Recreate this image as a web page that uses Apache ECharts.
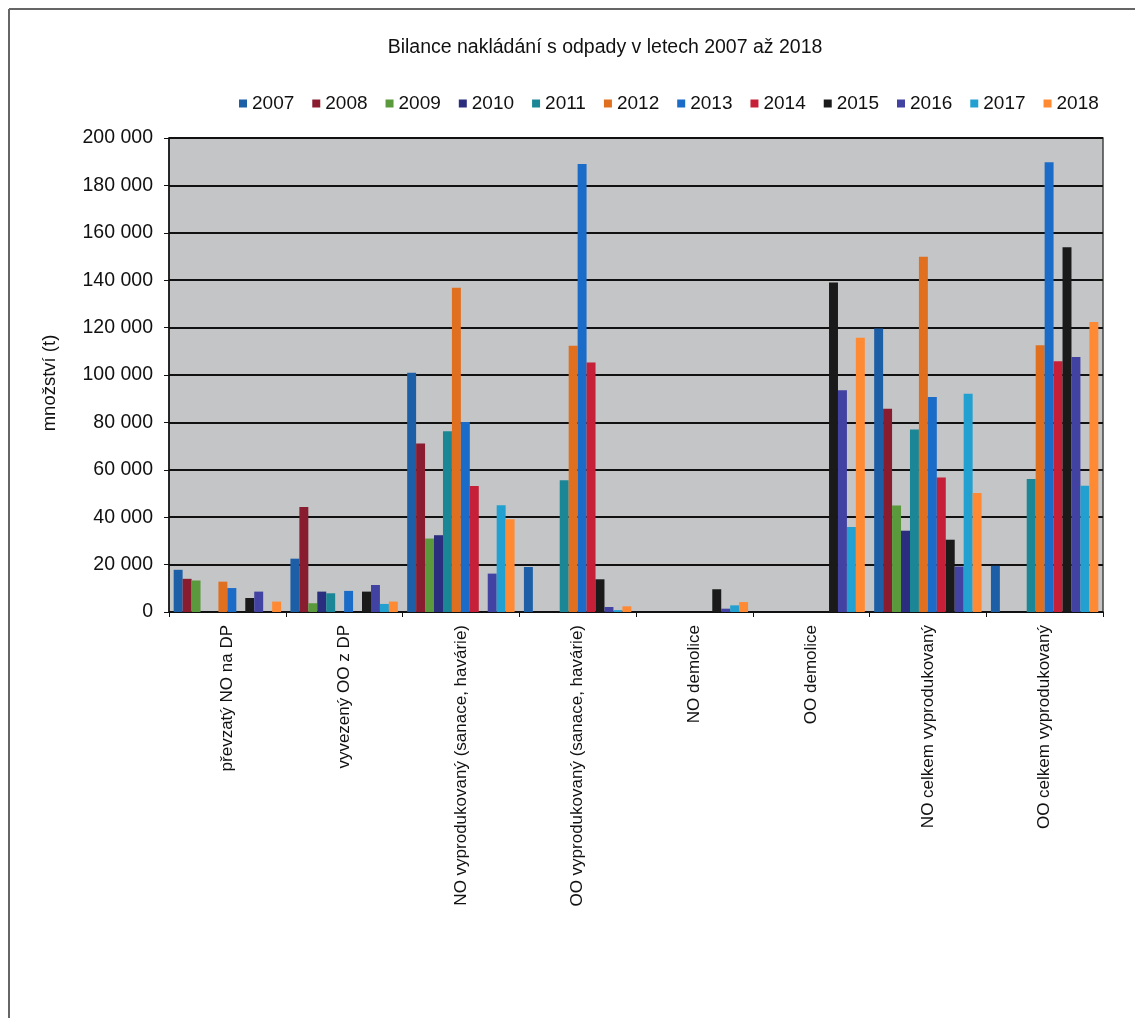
<!DOCTYPE html>
<html>
<head>
<meta charset="utf-8">
<script src="https://cdn.jsdelivr.net/npm/echarts@6/dist/echarts.min.js"></script>
<style>
html,body{margin:0;padding:0;background:#fff;}
#chart{width:1135px;height:1018px;}
</style>
</head>
<body>
<div id="chart"></div>
<script>
const categories = [
  'převzatý NO na DP',
  'vyvezený OO z DP',
  'NO vyprodukovaný (sanace, havárie)',
  'OO vyprodukovaný (sanace, havárie)',
  'NO demolice',
  'OO demolice',
  'NO celkem vyprodukovaný',
  'OO celkem vyprodukovaný'
];
const years = ['2007','2008','2009','2010','2011','2012','2013','2014','2015','2016','2017','2018'];
const y2007 = [17800, 22500, 101000, 19000, 0, 0, 119600, 19500];
const y2008 = [14000, 44300, 71100, 0, 0, 0, 85800, 0];
const y2009 = [13300, 3700, 31000, 0, 0, 0, 44900, 0];
const y2010 = [0, 8600, 32400, 0, 0, 0, 34300, 0];
const y2011 = [0, 7900, 76300, 55600, 0, 0, 77000, 56100];
const y2012 = [12800, 0, 136800, 112300, 0, 0, 149900, 112600];
const y2013 = [10100, 8900, 80200, 189000, 0, 0, 90700, 189800];
const y2014 = [0, 0, 53200, 105300, 0, 0, 56800, 105800];
const y2015 = [5900, 8600, 0, 13800, 9600, 139000, 30500, 153900];
const y2016 = [8600, 11400, 16200, 2100, 1400, 93600, 19200, 107600];
const y2017 = [0, 3400, 45000, 800, 2800, 35900, 92100, 53300];
const y2018 = [4400, 4400, 39100, 2400, 4200, 115700, 50200, 122400];
const seriesValues = [y2007,y2008,y2009,y2010,y2011,y2012,y2013,y2014,y2015,y2016,y2017,y2018];
const colors = ['#1d5fa6','#8a1c30','#5b9a3c','#2b2d7e','#1b8796','#e0701f','#1b6cc8','#c61f38','#1a1a1a','#4242a2','#22a0d0','#ff8a33'];

const font = 'Arial, "Liberation Sans", sans-serif';
const chart = echarts.init(document.getElementById('chart'));
chart.setOption({
  backgroundColor: '#ffffff',
  animation: false,
  color: colors,
  title: {
    text: 'Bilance nakládání s odpady v letech 2007 až 2018',
    left: 600, textAlign: 'center', top: 33,
    textStyle: {fontFamily: font, fontSize: 19.5, fontWeight: 'normal', color: '#111'}
  },
  legend: {
    left: 234, top: 89,
    itemWidth: 8, itemHeight: 8, itemGap: 18,
    icon: 'rect',
    textStyle: {fontFamily: font, fontSize: 19, color: '#111'},
    data: years
  },
  graphic: [
    {type: 'line', shape: {x1: 9, y1: 9, x2: 1135, y2: 9}, style: {stroke: '#666', lineWidth: 2}},
    {type: 'line', shape: {x1: 9, y1: 9, x2: 9, y2: 1018}, style: {stroke: '#666', lineWidth: 2}}
  ],
  grid: {
    left: 169, right: 32, top: 138, bottom: 406,
    show: true, backgroundColor: '#c3c5c7', borderColor: '#444', borderWidth: 1.5
  },
  xAxis: {
    type: 'category',
    data: categories,
    axisLine: {lineStyle: {color: '#111', width: 1.5}},
    axisTick: {show: true, length: 5, lineStyle: {color: '#111'}},
    axisLabel: {rotate: 90, fontFamily: font, fontSize: 17, color: '#111', margin: 13, interval: 0}
  },
  yAxis: {
    type: 'value',
    min: 0, max: 200000, interval: 20000,
    name: 'množství (t)',
    nameLocation: 'middle',
    nameGap: 110,
    nameRotate: 90,
    nameTextStyle: {fontFamily: font, fontSize: 18.5, color: '#111', padding: [0, 16, 0, 0]},
    axisLine: {show: true, lineStyle: {color: '#111', width: 1.5}},
    axisTick: {show: true, length: 5, lineStyle: {color: '#111'}},
    splitLine: {lineStyle: {color: '#111', width: 2}},
    axisLabel: {
      fontFamily: font, fontSize: 19.5, color: '#111', margin: 16,
      formatter: v => String(v).replace(/\B(?=(\d{3})+(?!\d))/g, ' ')
    }
  },
  series: years.map((y, i) => ({
    name: y,
    type: 'bar',
    data: seriesValues[i],
    barGap: '0%',
    barCategoryGap: '8%'
  }))
});
</script>
</body>
</html>
